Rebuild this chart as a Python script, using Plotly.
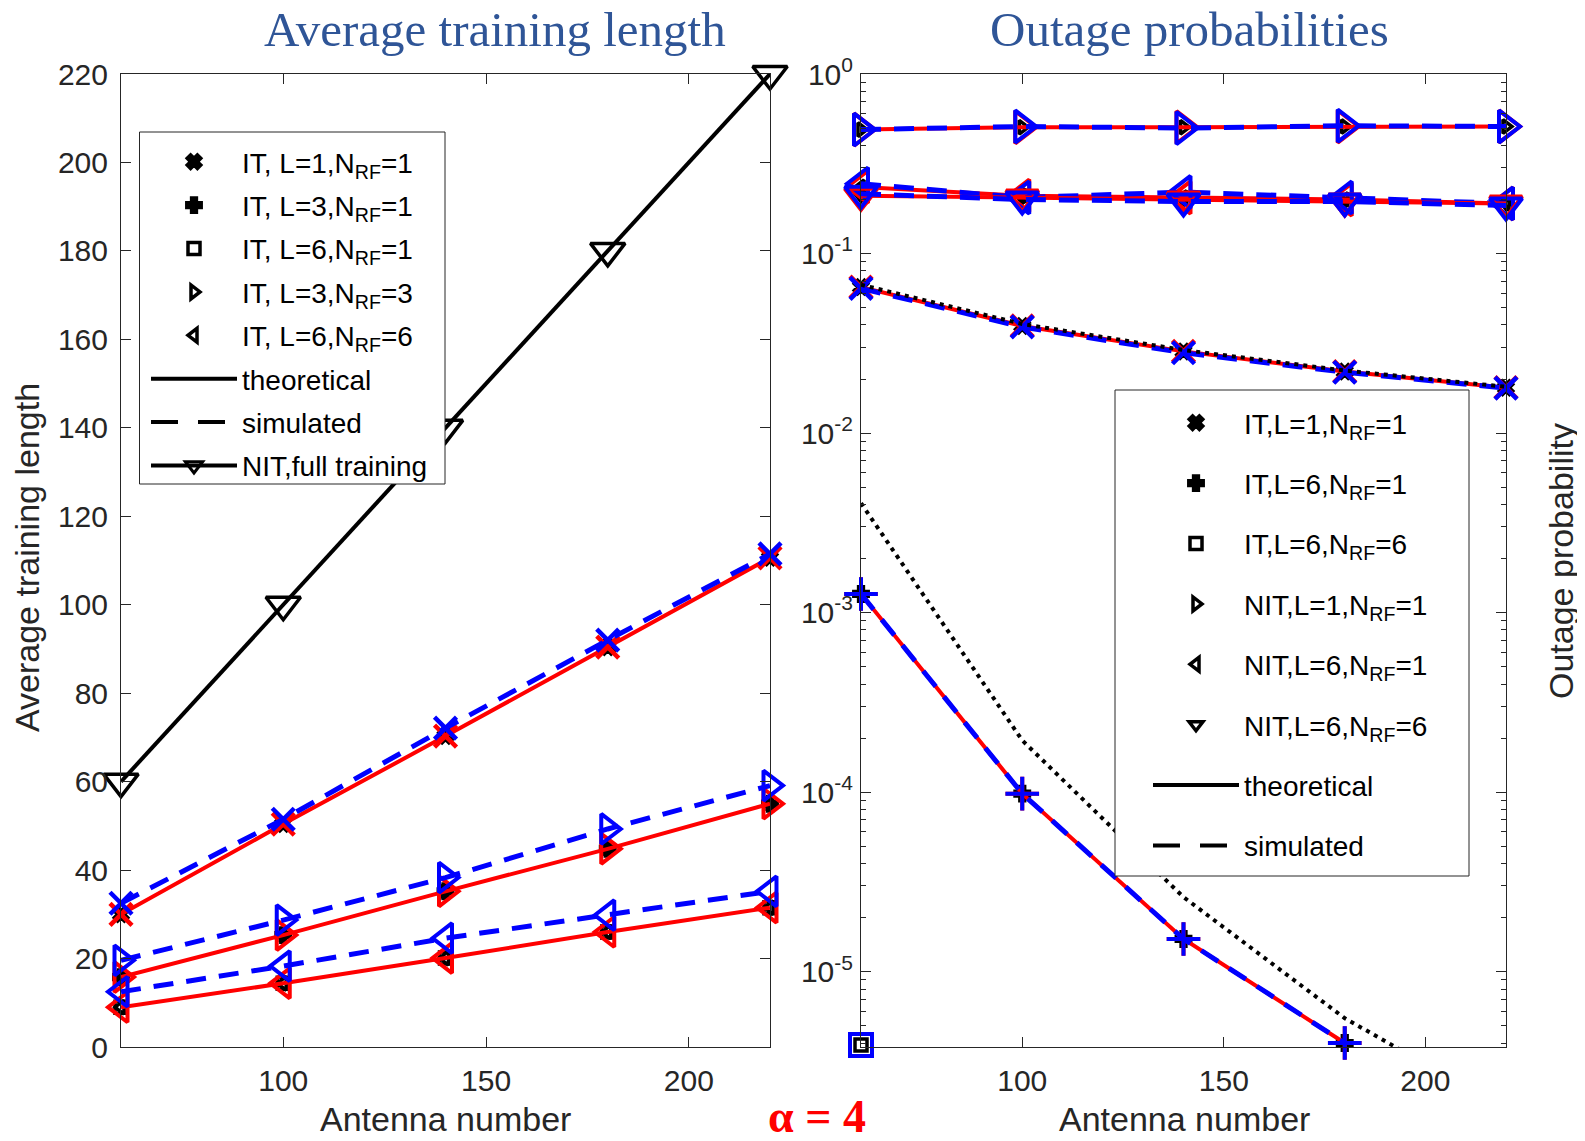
import plotly.graph_objects as go

# ---------------- data ----------------
antennas = [60, 100, 140, 180, 220]

# left: average training length
nit_full = [60, 100, 140, 180, 220]
it_L1_theo = [30, 50.4, 70.3, 90.4, 110.6]
it_L1_sim = [32.5, 51.5, 72.1, 92, 111.5]
it_L3_theo = [15.8, 25.3, 35.2, 44.8, 55]
it_L3_sim = [19.6, 28.7, 38.3, 49.3, 59.1]
it_L6_theo = [9.0, 14.4, 20.1, 26, 31.5]
it_L6_sim = [12.5, 18.3, 24.6, 29.8, 35.2]

# right: outage probabilities
op_it_L1_theo = [0.065, 0.0395, 0.0285, 0.022, 0.0179]
op_it_L1_sim = [0.064, 0.039, 0.028, 0.0218, 0.0178]
op_it_L1_bound = [0.067, 0.0405, 0.029, 0.0223, 0.0181]
op_it_L6N1_theo = [1.27e-3, 9.8e-5, 1.52e-5, 4.0e-6, None]
op_it_L6N1_sim = [1.27e-3, 9.8e-5, 1.52e-5, 4.0e-6, None]
op_it_L6N1_bound = [4.07e-3, 1.94e-4, 2.6e-5, 5.5e-6, 1.7e-6]
op_it_L6N6_theo = [3.9e-6, None, None, None, None]
op_it_L6N6_sim = [3.9e-6, None, None, None, None]
op_nit_L1_theo = [0.49, 0.505, 0.505, 0.51, 0.51]
op_nit_L1_sim = [0.49, 0.51, 0.50, 0.515, 0.51]
op_nit_L6N1_theo = [0.235, 0.21, 0.205, 0.20, 0.19]
op_nit_L6N1_sim = [0.245, 0.205, 0.22, 0.205, 0.19]
op_nit_L6N6_theo = [0.21, 0.205, 0.20, 0.195, 0.19]
op_nit_L6N6_sim = [0.215, 0.20, 0.195, 0.195, 0.185]

left_ticks = [0, 20, 40, 60, 80, 100, 120, 140, 160, 180, 200, 220]
x_ticks = [100, 150, 200]
log_ticks = [1e-5, 1e-4, 1e-3, 1e-2, 1e-1, 1]
log_ticktext = ["10<sup>-5</sup>", "10<sup>-4</sup>", "10<sup>-3</sup>",
                "10<sup>-2</sup>", "10<sup>-1</sup>", "10<sup>0</sup>"]

# ---------------- style ----------------
RED = "rgb(255,0,0)"
BLUE = "rgb(0,0,255)"
AX = "#262626"
DASH = "20px,13px"
LEG_DASH = "27px,20px"
FONT = "Liberation Sans, Arial, sans-serif"
SERIF = "Liberation Serif, Times New Roman, serif"

OFF = 8  # page body margin
SW, SH = 1585, 1141
W, H = SW - OFF, SH - OFF
# target positions in screenshot pixels
AX_L, AX_R, AX_T, AX_B = 121, 1506, 74, 1047
L_M, R_M, T_M, B_M = AX_L - OFF, SW - AX_R, AX_T - OFF, SH - AX_B
PW, PH = W - L_M - R_M, H - T_M - B_M


def px(x):
    return (x - AX_L) / PW


def py(y):
    return (AX_B - y) / PH


fig = go.Figure()


def legend_marker(xa, ya, vals, sym, name, legend, group):
    fig.add_trace(go.Scatter(
        x=antennas, y=vals, xaxis=xa, yaxis=ya, mode="markers",
        marker=dict(symbol=sym, size=12, color="black", line=dict(width=3.5, color="black")),
        name=name, legend=legend, legendgroup=group, showlegend=True, cliponaxis=False))


def series(xa, ya, theo, sim, sym, msize=24, lw_m=4):
    fig.add_trace(go.Scatter(
        x=antennas, y=theo, xaxis=xa, yaxis=ya, mode="lines+markers",
        line=dict(color=RED, width=4),
        marker=dict(symbol=sym, size=msize, color=RED, line=dict(width=lw_m, color=RED)),
        showlegend=False, cliponaxis=False, connectgaps=False))
    fig.add_trace(go.Scatter(
        x=antennas, y=sim, xaxis=xa, yaxis=ya, mode="lines+markers",
        line=dict(color=BLUE, width=5, dash=DASH),
        marker=dict(symbol=sym, size=msize, color=BLUE, line=dict(width=lw_m, color=BLUE)),
        showlegend=False, cliponaxis=False, connectgaps=False))


sub = "N<sub>RF</sub>"

# ---- left subplot ----
legend_marker("x", "y", it_L1_theo, "x", f"IT, L=1,{sub}=1", "legend", "a1")
legend_marker("x", "y", it_L3_theo, "cross", f"IT, L=3,{sub}=1", "legend", "a2")
legend_marker("x", "y", it_L6_theo, "square-open", f"IT, L=6,{sub}=1", "legend", "a3")
legend_marker("x", "y", it_L3_theo, "triangle-right-open", f"IT, L=3,{sub}=3", "legend", "a4")
legend_marker("x", "y", it_L6_theo, "triangle-left-open", f"IT, L=6,{sub}=6", "legend", "a5")

fig.add_trace(go.Scatter(
    x=antennas, y=nit_full, xaxis="x", yaxis="y", mode="lines+markers",
    line=dict(color="black", width=4),
    marker=dict(symbol="triangle-down-open", size=30, color="black", line=dict(width=3.5, color="black")),
    showlegend=False, cliponaxis=False))

series("x", "y", it_L1_theo, it_L1_sim, "x-thin-open", msize=22, lw_m=4.5)
series("x", "y", it_L3_theo, it_L3_sim, "triangle-right-open", msize=26)
series("x", "y", it_L6_theo, it_L6_sim, "triangle-left-open", msize=26)

fig.add_trace(go.Scatter(x=[None], y=[None], xaxis="x", yaxis="y", mode="lines",
                         line=dict(color="black", width=4), name="theoretical",
                         legend="legend", legendgroup="a6"))
fig.add_trace(go.Scatter(x=[None], y=[None], xaxis="x", yaxis="y", mode="lines",
                         line=dict(color="black", width=4, dash=LEG_DASH), name="simulated",
                         legend="legend", legendgroup="a7"))
fig.add_trace(go.Scatter(x=[None], y=[None], xaxis="x", yaxis="y", mode="lines+markers",
                         line=dict(color="black", width=4),
                         marker=dict(symbol="triangle-down-open", size=15, color="black",
                                     line=dict(width=3, color="black")),
                         name="NIT,full training", legend="legend", legendgroup="a8"))

# ---- right subplot ----
legend_marker("x2", "y2", op_it_L1_theo, "x", f"IT,L=1,{sub}=1", "legend2", "b1")
legend_marker("x2", "y2", op_it_L6N1_theo, "cross", f"IT,L=6,{sub}=1", "legend2", "b2")
legend_marker("x2", "y2", op_it_L6N6_theo, "square-open", f"IT,L=6,{sub}=6", "legend2", "b3")
legend_marker("x2", "y2", op_nit_L1_theo, "triangle-right-open", f"NIT,L=1,{sub}=1", "legend2", "b4")
legend_marker("x2", "y2", op_nit_L6N1_theo, "triangle-left-open", f"NIT,L=6,{sub}=1", "legend2", "b5")
legend_marker("x2", "y2", op_nit_L6N6_theo, "triangle-down-open", f"NIT,L=6,{sub}=6", "legend2", "b6")

fig.add_trace(go.Scatter(x=antennas, y=op_it_L6N1_bound, xaxis="x2", yaxis="y2", mode="lines",
                         line=dict(color="black", width=4, dash="4px,5px"), showlegend=False))

series("x2", "y2", op_nit_L1_theo, op_nit_L1_sim, "triangle-right-open", msize=28)
series("x2", "y2", op_nit_L6N1_theo, op_nit_L6N1_sim, "triangle-left-open", msize=28)
series("x2", "y2", op_nit_L6N6_theo, op_nit_L6N6_sim, "triangle-down-open", msize=28)
series("x2", "y2", op_it_L1_theo, op_it_L1_sim, "x-thin-open", msize=22, lw_m=4.5)
series("x2", "y2", op_it_L6N1_theo, op_it_L6N1_sim, "cross-thin-open", msize=24)
series("x2", "y2", op_it_L6N6_theo, op_it_L6N6_sim, "square-open", msize=22)

fig.add_trace(go.Scatter(x=antennas, y=op_it_L1_bound, xaxis="x2", yaxis="y2", mode="lines",
                         line=dict(color="black", width=4, dash="4px,5px"), showlegend=False))

fig.add_trace(go.Scatter(x=[None], y=[None], xaxis="x2", yaxis="y2", mode="lines",
                         line=dict(color="black", width=4), name="theoretical",
                         legend="legend2", legendgroup="b7"))
fig.add_trace(go.Scatter(x=[None], y=[None], xaxis="x2", yaxis="y2", mode="lines",
                         line=dict(color="black", width=4, dash=LEG_DASH), name="simulated",
                         legend="legend2", legendgroup="b8"))

axis_common = dict(showline=True, linecolor=AX, linewidth=1, mirror="allticks",
                   ticks="inside", ticklen=10, tickcolor=AX, showgrid=False, zeroline=False,
                   automargin=False, tickfont=dict(family=FONT, size=30, color=AX))

fig.update_layout(
    width=W, height=H, margin=dict(l=L_M, r=R_M, t=T_M, b=B_M, autoexpand=False),
    paper_bgcolor="white", plot_bgcolor="white",
    xaxis=dict(domain=[0, px(770)], range=[60, 220], tickvals=x_ticks, anchor="y",
               ticklabelstandoff=7, **axis_common),
    yaxis=dict(domain=[0, 1], range=[0, 220], tickvals=left_ticks, anchor="x",
               ticklabelstandoff=6, **axis_common),
    xaxis2=dict(domain=[px(861), 1], range=[60, 220], tickvals=x_ticks, anchor="y2",
                ticklabelstandoff=7, **axis_common),
    yaxis2=dict(domain=[0, 1], type="log", range=[-5.42, 0], tickvals=log_ticks,
                ticktext=log_ticktext, anchor="x2", ticklabelstandoff=1,
                minor=dict(ticks="inside", ticklen=5, tickcolor=AX,
                           tickvals=[k * 10 ** e for e in range(-6, 0) for k in range(2, 10)]),
                **axis_common),
    legend=dict(x=px(146), y=py(137), xanchor="left", yanchor="top",
                bgcolor="rgba(0,0,0,0)", borderwidth=0,
                font=dict(family=FONT, size=28, color="black"),
                traceorder="grouped", tracegroupgap=4, itemwidth=86),
    legend2=dict(x=px(1148), y=py(398), xanchor="left", yanchor="top",
                 bgcolor="rgba(0,0,0,0)", borderwidth=0,
                 font=dict(family=FONT, size=28, color="black"),
                 traceorder="grouped", tracegroupgap=21, itemwidth=86),
)

shapes = [
    dict(type="rect", xref="paper", yref="paper", x0=px(139.5), x1=px(445), y0=py(132), y1=py(484),
         line=dict(color=AX, width=1), fillcolor="white", layer="above"),
    dict(type="rect", xref="paper", yref="paper", x0=px(1115), x1=px(1469), y0=py(390), y1=py(876),
         line=dict(color=AX, width=1), fillcolor="white", layer="above"),
]
fig.update_layout(shapes=shapes)


def ann(text, x, y, size, family=FONT, color=AX, angle=0):
    return dict(text=text, x=px(x), y=py(y), xref="paper", yref="paper", xanchor="center",
                yanchor="middle", showarrow=False, textangle=angle,
                font=dict(family=family, size=size, color=color))


annotations = [
    ann("Average training length", 495, 29, 49, SERIF, "#2F5597"),
    ann("Outage probabilities", 1189, 29, 49, SERIF, "#2F5597"),
    ann("Antenna number", 445, 1119, 34),
    ann("Antenna number", 1184, 1119, 34),
    ann("Average training length", 27, 558, 34, angle=-90),
    ann("Outage probability", 1561, 561, 34, angle=-90),
    ann("<b>α = 4</b>", 817, 1116, 46, SERIF, "red"),
]
fig.update_layout(annotations=annotations)

fig.write_html("out.html")
